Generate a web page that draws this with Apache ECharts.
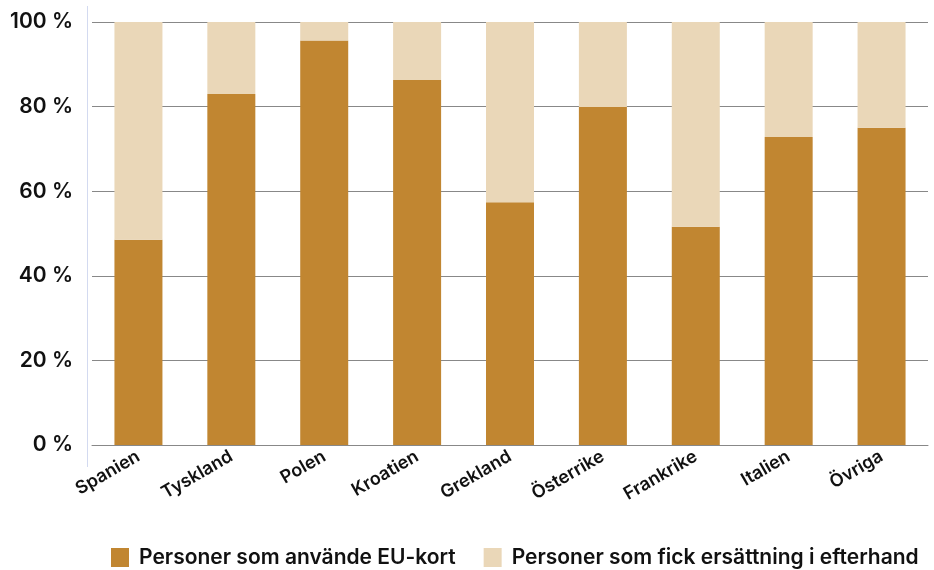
<!DOCTYPE html>
<html><head><meta charset="utf-8">
<script src="https://cdn.jsdelivr.net/npm/echarts@6/dist/echarts.min.js"></script>
<style>html,body{margin:0;padding:0;background:#fff}#c{width:934px;height:570px}</style>
</head><body><div id="c"></div>
<script>
const categories = ['Spanien','Tyskland','Polen','Kroatien','Grekland','Österrike','Frankrike','Italien','Övriga'];
const euKort = [48.5, 83.0, 95.6, 86.3, 57.4, 79.9, 51.6, 72.8, 75.0];
const efterhand = [51.5, 17.0, 4.4, 13.7, 42.6, 20.1, 48.4, 27.2, 25.0];
const seriesNames = ['Personer som använde EU-kort', 'Personer som fick ersättning i efterhand'];
const yTicks = [0, 20, 40, 60, 80, 100];

const font = 'Inter';
const chart = echarts.init(document.getElementById('c'));
chart.setOption({
  animation: false,
  textStyle: { fontFamily: font },
  grid: { left: 92, right: 6, top: 22, bottom: 125 },
  graphic: [{
    type: 'line', shape: { x1: 87.5, y1: 6, x2: 87.5, y2: 467 },
    style: { stroke: '#d3daf0', lineWidth: 1 }, silent: true
  }],
  legend: {
    left: 106, bottom: -3, itemWidth: 18, itemHeight: 19, itemGap: 28,
    icon: 'rect',
    textStyle: { fontSize: 21, color: '#111', fontFamily: font, fontWeight: 600, padding: [0, 0, 0, 5] },
    data: seriesNames
  },
  xAxis: {
    type: 'category', data: categories,
    axisLine: { show: true, lineStyle: { color: '#888', width: 1 } },
    axisTick: { show: false },
    axisLabel: { rotate: 30, fontSize: 18, color: '#111', fontWeight: 600, margin: 10, interval: 0 }
  },
  yAxis: {
    type: 'value', min: 0, max: 100, interval: 20,
    axisLine: { show: false },
    axisTick: { show: false },
    splitLine: { lineStyle: { color: '#888', width: 1 } },
    axisLabel: { fontSize: 21, color: '#111', fontWeight: 600, margin: 19,
      formatter: v => yTicks.includes(v) ? v + ' %' : '' }
  },
  series: [
    { name: seriesNames[0], type: 'bar', stack: 'a', data: euKort, barWidth: 48,
      itemStyle: { color: '#C18631' } },
    { name: seriesNames[1], type: 'bar', stack: 'a', data: efterhand, barWidth: 48,
      itemStyle: { color: '#EAD7B8' } }
  ]
});
</script></body></html>
